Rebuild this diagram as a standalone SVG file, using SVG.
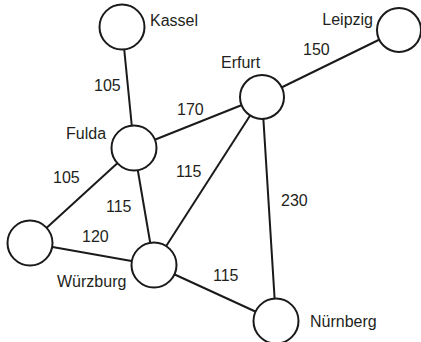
<svg xmlns="http://www.w3.org/2000/svg" width="421" height="342" viewBox="0 0 421 342">
<style>
.edge{stroke:#1a1a1a;stroke-width:2;fill:none}
.node{fill:#fff;stroke:#1a1a1a;stroke-width:2}
text{font-family:"Liberation Sans",Arial,sans-serif;font-size:16px;fill:#231f20}
</style>
<rect width="421" height="342" fill="#fff"/>
<g id="connectors">
<line class="edge" x1="122" y1="27" x2="134" y2="148"/>
<line class="edge" x1="134" y1="148" x2="262" y2="97"/>
<line class="edge" x1="262" y1="97" x2="399" y2="30"/>
<line class="edge" x1="134" y1="148" x2="30" y2="243"/>
<line class="edge" x1="134" y1="148" x2="154" y2="265"/>
<line class="edge" x1="262" y1="97" x2="154" y2="265"/>
<line class="edge" x1="262" y1="97" x2="276" y2="321"/>
<line class="edge" x1="30" y1="243" x2="154" y2="265"/>
<line class="edge" x1="154" y1="265" x2="276" y2="321"/>
<text x="94" y="91">105</text>
<text x="177" y="115">170</text>
<text x="303" y="55">150</text>
<text x="53" y="183">105</text>
<text x="106" y="212">115</text>
<text x="176" y="177">115</text>
<text x="281" y="206">230</text>
<text x="82" y="242">120</text>
<text x="213" y="281">115</text>
</g>
<g id="kassel"><circle class="node" cx="122" cy="27" r="22.5"/><text x="150" y="26">Kassel</text></g>
<g id="leipzig"><circle class="node" cx="399" cy="30" r="22"/><text x="373" y="25" text-anchor="end">Leipzig</text></g>
<g id="erfurt"><circle class="node" cx="262" cy="97" r="22"/><text x="221" y="68">Erfurt</text></g>
<g id="fulda"><circle class="node" cx="134" cy="148" r="22.5"/><text x="66" y="139">Fulda</text></g>
<g id="west"><circle class="node" cx="30" cy="243" r="22.5"/></g>
<g id="wuerzburg"><circle class="node" cx="154" cy="265" r="22.5"/><text x="57" y="287">Würzburg</text></g>
<g id="nuernberg"><circle class="node" cx="276" cy="321" r="22.5"/><text x="310" y="327">Nürnberg</text></g>
</svg>
